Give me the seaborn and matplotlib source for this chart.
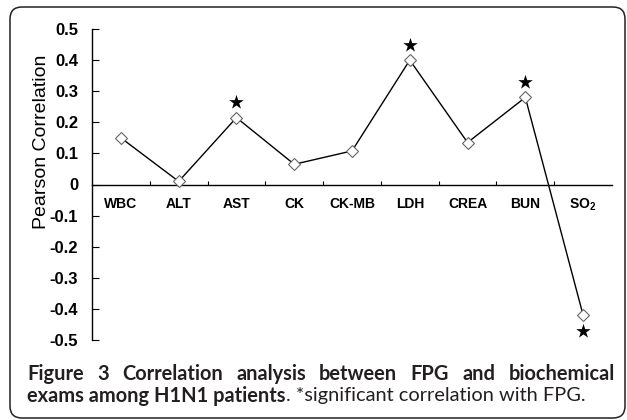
import matplotlib
matplotlib.use('Agg')
import matplotlib.pyplot as plt
import seaborn as sns
import numpy as np
import pandas as pd
from matplotlib.transforms import IdentityTransform
from matplotlib.patches import FancyBboxPatch
from matplotlib.ticker import FixedLocator, FixedFormatter, FuncFormatter, NullFormatter

# ---------------- data ----------------
categories = ['WBC', 'ALT', 'AST', 'CK', 'CK-MB', 'LDH', 'CREA', 'BUN', r'SO$_2$']
pearson_r = [0.15, 0.01, 0.215, 0.065, 0.108, 0.40, 0.135, 0.28, -0.42]
significant = [False, False, True, False, False, True, False, True, True]
ytick_values = [0.5, 0.4, 0.3, 0.2, 0.1, 0.0, -0.1, -0.2, -0.3, -0.4, -0.5]
ylabel_text = 'Pearson Correlation'
caption_bold_1 = 'Figure 3 Correlation analysis between FPG and biochemical'
caption_bold_2 = 'exams among H1N1 patients'
caption_normal_2 = '. *significant correlation with FPG.'

# ---------------- style ----------------
sns.set_theme(style='white')
plt.rcParams['font.family'] = ['Liberation Sans', 'DejaVu Sans']
plt.rcParams['axes.unicode_minus'] = False
plt.rcParams['mathtext.fontset'] = 'custom'
plt.rcParams['mathtext.rm'] = 'Liberation Sans:bold'
plt.rcParams['mathtext.it'] = 'Liberation Sans:bold'
plt.rcParams['mathtext.bf'] = 'Liberation Sans:bold'
plt.rcParams['mathtext.default'] = 'rm'

W, H = 627, 420
fig = plt.figure(figsize=(W / 100, H / 100), dpi=100, facecolor='white')
ax = fig.add_axes([92 / W, 1 - 340 / H, (612 - 92) / W, (340 - 29) / H])
ax.set_facecolor('white')

df = pd.DataFrame({'pos': np.arange(len(categories)), 'r': pearson_r,
                   'cat': categories, 'sig': significant})

sns.lineplot(data=df, x='pos', y='r', ax=ax, color='black', linewidth=1.0,
             marker='D', markersize=6.5, markerfacecolor='white',
             markeredgecolor='#666666', markeredgewidth=0.8, zorder=3)

stars = df[df['sig']].copy()
stars['ys'] = stars['r'] + 0.05 * np.sign(stars['r'])
sns.scatterplot(data=stars, x='pos', y='ys', ax=ax, marker='*', s=120,
                color='black', linewidth=0, zorder=4, legend=False)

ax.set_xlim(-0.5, len(categories) - 0.5)
ax.set_ylim(-0.5, 0.5)
ax.set_xlabel('')
ax.set_ylabel('')

for s in ['top', 'right']:
    ax.spines[s].set_visible(False)
ax.spines['bottom'].set_position(('data', 0))
for s in ['left', 'bottom']:
    ax.spines[s].set_color('black')
    ax.spines[s].set_linewidth(1.0)

ax.xaxis.set_major_locator(FixedLocator(np.arange(len(categories) - 1) + 0.5))
ax.xaxis.set_major_formatter(NullFormatter())
ax.xaxis.set_minor_locator(FixedLocator(np.arange(len(categories))))
ax.xaxis.set_minor_formatter(FixedFormatter(categories))
ax.tick_params(axis='x', which='major', direction='in', length=3, width=0.8,
               color='black', bottom=True)
ax.tick_params(axis='x', which='minor', length=0, pad=9, labelsize=10,
               labelcolor='black', bottom=True)
for lbl in ax.get_xticklabels(minor=True):
    lbl.set_fontweight('bold')

ax.yaxis.set_major_locator(FixedLocator(ytick_values))
ax.yaxis.set_major_formatter(FuncFormatter(lambda v, p: '0' if abs(v) < 1e-9 else f'{v:.1f}'))
ax.tick_params(axis='y', direction='in', length=5, width=0.8, color='black',
               left=True, pad=10, labelsize=12, labelcolor='black')
for lbl in ax.get_yticklabels():
    lbl.set_fontweight('bold')

ax.set_ylabel(ylabel_text, fontsize=14, color='black')
ax.yaxis.set_label_coords(-0.08, (340 - 142) / (340 - 29))

# ---------------- frame ----------------
frame = FancyBboxPatch((10, 2), 615, 411, boxstyle='round,pad=0,rounding_size=12',
                       transform=IdentityTransform(), facecolor='none',
                       edgecolor='#222222', linewidth=1.1)
fig.add_artist(frame)

# ---------------- caption ----------------
fig.canvas.draw()
rend = fig.canvas.get_renderer()
cap_font = 'Lato'
cap_color = '#231f20'


def text_width(s, weight, size):
    t = fig.text(0, 0, s, fontsize=size, fontweight=weight, family=cap_font,
                 transform=IdentityTransform())
    w = t.get_window_extent(rend).width
    t.remove()
    return w


base = 13.0
w2 = text_width(caption_bold_2, 'bold', base) + text_width(caption_normal_2, 'normal', base)
size = base * 558 / w2

x_left, x_right = 27, 615
y1 = H - 380
y2 = H - 401.5

words = caption_bold_1.split(' ')
widths = [text_width(w, 'bold', size) for w in words]
gap = (x_right - x_left - sum(widths)) / (len(words) - 1)
x = x_left
for w, wd in zip(words, widths):
    fig.text(x, y1, w, fontsize=size, fontweight='bold', family=cap_font,
             color=cap_color, transform=IdentityTransform(), va='baseline', ha='left')
    x += wd + gap

wb = text_width(caption_bold_2, 'bold', size)
fig.text(x_left, y2, caption_bold_2, fontsize=size, fontweight='bold', family=cap_font,
         color=cap_color, transform=IdentityTransform(), va='baseline', ha='left')
fig.text(x_left + wb, y2, caption_normal_2, fontsize=size, fontweight='normal',
         family=cap_font, color=cap_color, transform=IdentityTransform(),
         va='baseline', ha='left')

fig.savefig('out.png', dpi=100, facecolor='white')
